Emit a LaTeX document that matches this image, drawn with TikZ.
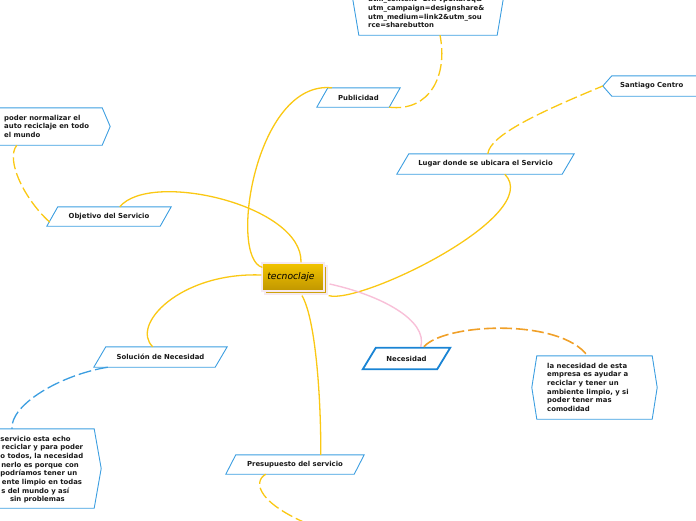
\documentclass[tikz,border=0pt]{standalone}
\usepackage{fontspec}
\setmainfont{DejaVu Sans}
\usetikzlibrary{calc}
\definecolor{ylw}{RGB}{250,200,20}
\definecolor{org}{RGB}{240,160,40}
\definecolor{pnk}{RGB}{248,192,216}
\definecolor{bblue}{RGB}{60,158,224}
\definecolor{dblue}{RGB}{26,132,212}
\definecolor{hubtop}{RGB}{242,196,0}
\definecolor{hubbot}{RGB}{192,150,0}
\definecolor{hubsh}{RGB}{205,162,10}
\definecolor{hubedge}{RGB}{246,234,240}
\definecolor{txt}{RGB}{25,25,25}
\newcommand\parabox[3][bbox]{\draw[#1] (#2.south west) -- ($(#2.north west)+(#3,0)$) -- (#2.north east) -- ($(#2.south east)+(-#3,0)$) -- cycle;}
\newcommand\hexbox[2]{\draw[bbox] (#1.north west) -- (#1.north east) -- ($(#1.east)+(#2,0)$) -- (#1.south east) -- (#1.south west) -- ($(#1.west)+(-#2,0)$) -- cycle;}
\begin{document}
\begin{tikzpicture}[x=1pt,y=-1pt,
  lbl/.style={font=\fontsize{6.9}{8.7}\selectfont\bfseries, text=txt, inner sep=0pt},
  frame/.style={lbl, rectangle, minimum width=#1},
  bbox/.style={draw=bblue, line width=0.9pt, line join=miter},
  nbox/.style={draw=dblue, line width=1.8pt, line join=miter},
  conn/.style={draw=ylw, line width=1.3pt},
  dconn/.style={conn, dash pattern=on 12pt off 4pt},
  hubstyle/.style={rectangle, minimum width=62pt, minimum height=28pt, inner sep=0pt, draw=hubedge, line width=1.2pt}]
\useasboundingbox (0,0) rectangle (696,520);

% ---------- nodes ----------
\node[hubstyle, fill=hubsh] (hubshadow) at (296,280) {};
\node[hubstyle, top color=hubtop, bottom color=hubbot] (hub) at (293,277) {};
\node[font=\fontsize{9.2}{10}\selectfont\itshape, text=black, inner sep=0pt] (hubt) at (291,277) {tecnoclaje};

\node[frame=83pt, minimum height=19pt] (pub) at (358.5,97.5) {Publicidad};
\node[frame=124pt, minimum height=19pt] (obj) at (109,216.5) {Objetivo del Servicio};
\node[frame=177pt, minimum height=20pt] (lug) at (485.5,164) {Lugar donde se ubicara el Servicio};
\node[frame=133pt, minimum height=20pt] (sol) at (160.5,357) {Solución de Necesidad};
\node[frame=87pt, minimum height=21pt] (nec) at (406.5,358.5) {Necesidad};
\node[frame=138pt, minimum height=19pt] (pre) at (295,464.5) {Presupuesto del servicio};

\node[frame=138pt, minimum height=95pt] (top) at (428,-12.5) {};
\node[lbl, align=left, anchor=north west] (topt) at (368,-3.6) {utm\_content=DAFvpCKaroq\&\\utm\_campaign=designshare\&\\utm\_medium=link2\&utm\_sou\\rce=sharebutton};

\node[frame=110pt, minimum height=37pt] (pod) at (47,126.5) {};
\node[lbl, align=left, anchor=north west] (podt) at (4,114.6) {poder normalizar el\\auto reciclaje en todo\\el mundo};

\node[frame=108pt, minimum height=20pt] (san) at (666,86) {};
\node[lbl, anchor=west] (sant) at (620,85.5) {Santiago Centro};

\node[frame=115pt, minimum height=63pt] (big) at (594.5,387.5) {};
\node[lbl, align=left, anchor=north west] (bigt) at (547,362.6) {la necesidad de esta\\empresa es ayudar a\\reciclar y tener un\\ambiente limpio, y si\\poder tener mas\\comodidad};

\node[frame=110pt, minimum height=79pt] (bl) at (39,468.5) {};
\node[lbl, align=left, anchor=north west] (blt) at (0.3,435.6) {servicio esta echo\\\hspace*{1.5pt}reciclar y para poder\\o todos, la necesidad\\\hspace*{0.8pt}nerlo es porque con\\podríamos tener un\\\hspace*{1.5pt}ente limpio en todas\\\hspace*{0.8pt}s del mundo y así\\\hspace*{9.5pt}sin problemas};

\coordinate (offb) at (318,528);

% ---------- shapes ----------
\parabox{pub}{11}
\parabox{obj}{11}
\parabox{lug}{12}
\parabox{sol}{12}
\parabox[nbox]{nec}{13}
\parabox{pre}{10}
\hexbox{top}{8}
\hexbox{pod}{8}
\hexbox{san}{9}
\hexbox{big}{5}
\hexbox{bl}{7}

% ---------- connectors ----------
\draw[conn] ($(hub.north west)+(1,5)$) .. controls (228,258) and (255,80) .. ($(pub.north west)+(15,0)$);
\draw[conn] ($(hub.north)+(8,0)$) .. controls (303,205) and (150,170) .. ($(obj.north west)+(73,0)$);
\draw[conn] ($(hubshadow.south east)+(1,1)$) .. controls (360,305) and (545,215) .. ($(lug.south west)+(108,0)$);
\draw[conn] ($(hub.west)+(0,-2)$) .. controls (180,272) and (130,325) .. ($(sol.north west)+(59,0)$);
\draw[conn] ($(hubshadow.south)+(6,1)$) .. controls (316,320) and (321,400) .. ($(pre.north west)+(95,0)$);
\draw[draw=pnk, line width=1.4pt] ($(hubshadow.east)+(2,4)$) .. controls (380,295) and (428,320) .. ($(nec.north west)+(58,-1)$);
\draw[draw=org, line width=1.6pt, dash pattern=on 12pt off 4pt] ($(nec.north west)+(61,-1)$) .. controls (445,323) and (560,318) .. ($(big.north)+(-7,0)$);
\draw[draw=bblue, line width=1.3pt, dash pattern=on 13pt off 4pt] ($(sol.south west)+(14,0)$) .. controls (60,375) and (10,405) .. ($(bl.north)+(-27,0)$);
\draw[dconn] ($(pre.south west)+(40,0)$) .. controls (252,482) and (258,505) .. (offb);
\draw[dconn] ($(obj.south west)+(3,-4)$) .. controls (25,200) and (5,160) .. ($(pod.south west)+(25,0)$);
\draw[dconn] ($(lug.north west)+(91,0)$) .. controls (490,135) and (540,112) .. ($(san.west)+(-9,0)$);
\draw[dconn] ($(pub.south east)+(-11,0)$) .. controls (430,112) and (448,75) .. ($(top.south)+(12,0)$);
\end{tikzpicture}
\end{document}
